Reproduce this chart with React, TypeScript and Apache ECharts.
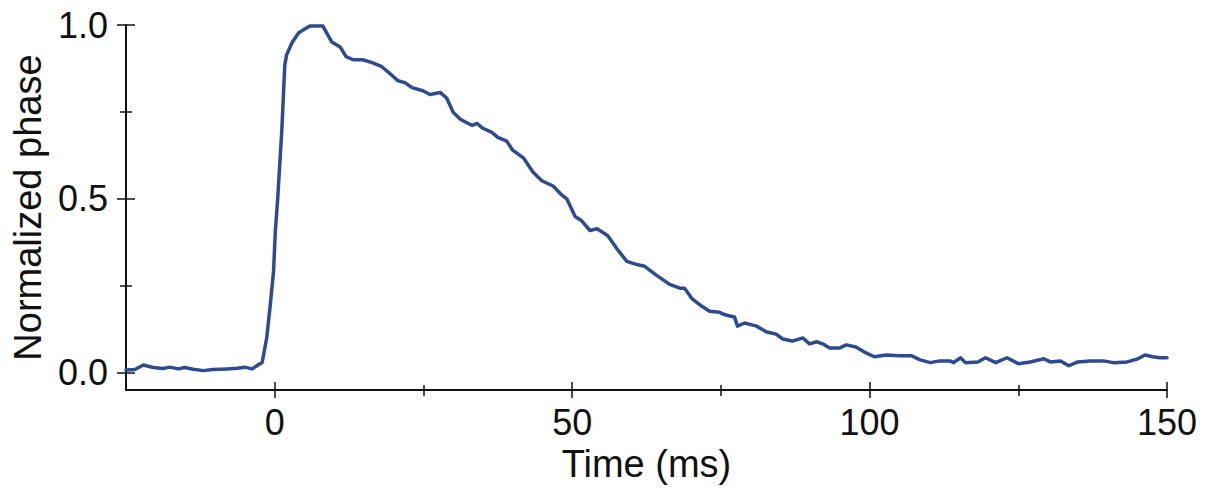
import React, { useEffect, useRef } from "react";
import * as echarts from "echarts";

const times: number[] = [
  -25, -23.5, -22.1, -20.4, -18.8, -17.6, -16.2, -15.1, -13.7, -12, -10.4, -8, -6.3, -5, -3.8, -2.1,
  -1.35, -0.8, -0.2, 0.1, 0.5, 1.2, 1.7, 2, 2.9, 4, 4.8, 5.9, 8.1, 9.6, 11, 12, 13.2, 14.8, 16.5,
  18, 19.4, 20.7, 21.9, 23.1, 24.9, 26.1, 27.8, 28.9, 30, 31.2, 33.2, 34, 35, 36.5, 37.5, 39, 40,
  41.8, 43.4, 44.9, 46.8, 48.2, 49.1, 50.5, 51.6, 53, 54.2, 56, 57.5, 59.2, 60.9, 62.2, 64.2, 66.4,
  68.1, 68.9, 70.1, 71.8, 73.1, 74.8, 75.3, 76.5, 77.3, 77.8, 79, 81, 82.7, 84.3, 85.4, 87, 88.8,
  89.9, 91.1, 92.1, 93.3, 94.9, 96.1, 97.7, 99.4, 100.8, 102.8, 105, 107, 108.5, 110.2, 111.8,
  113.5, 114.1, 115.3, 116.1, 118.2, 119.5, 121.2, 123.1, 125, 127, 129.3, 130.4, 132.1, 133.5,
  135, 137.1, 139.3, 141, 143.3, 145.1, 146.3, 147.6, 148.8, 150,
];

const phase: number[] = [
  0.008, 0.009, 0.022, 0.015, 0.012, 0.016, 0.011, 0.015, 0.01, 0.006, 0.009, 0.011, 0.013, 0.016,
  0.011, 0.03, 0.1, 0.186, 0.29, 0.406, 0.5, 0.7, 0.886, 0.914, 0.949, 0.977, 0.986, 0.997, 0.997,
  0.951, 0.937, 0.909, 0.9, 0.9, 0.891, 0.88, 0.86, 0.84, 0.834, 0.82, 0.811, 0.8, 0.806, 0.79,
  0.749, 0.729, 0.711, 0.717, 0.703, 0.691, 0.677, 0.666, 0.64, 0.618, 0.577, 0.552, 0.537, 0.512,
  0.5, 0.449, 0.437, 0.409, 0.414, 0.394, 0.357, 0.32, 0.311, 0.306, 0.28, 0.254, 0.243, 0.243,
  0.214, 0.191, 0.177, 0.174, 0.169, 0.163, 0.16, 0.134, 0.143, 0.134, 0.117, 0.111, 0.097, 0.091,
  0.1, 0.083, 0.089, 0.083, 0.071, 0.071, 0.08, 0.074, 0.057, 0.046, 0.051, 0.049, 0.049, 0.037,
  0.029, 0.034, 0.034, 0.029, 0.043, 0.029, 0.031, 0.043, 0.029, 0.043, 0.026, 0.031, 0.04, 0.031,
  0.034, 0.02, 0.031, 0.034, 0.034, 0.029, 0.031, 0.04, 0.051, 0.046, 0.043, 0.043,
];

const xMajorTicks: number[] = [0, 50, 100, 150];
const xMinorTicks: number[] = [25, 75, 125];
const yMajorTicks: number[] = [0, 0.5, 1.0];
const yMinorTicks: number[] = [0.25, 0.75];

const FONT = '"Liberation Sans", Arial, Helvetica, sans-serif';
const INK = "#111111";
const LINE_COLOR = "#2D4B8E";

export default function App() {
  const ref = useRef<HTMLDivElement>(null);

  useEffect(() => {
    if (!ref.current) return;
    const chart = echarts.init(ref.current, undefined, { renderer: "svg" });

    const xBase = {
      type: "value" as const,
      min: -25,
      max: 150,
      position: "bottom" as const,
      splitLine: { show: false },
    };
    const yBase = {
      type: "value" as const,
      min: -0.05,
      max: 1.0,
      position: "left" as const,
      splitLine: { show: false },
    };

    const tickAxisX = (values: number[], inside: boolean, length: number) => ({
      ...xBase,
      axisLine: { show: false, onZero: false },
      axisLabel: { show: false },
      axisTick: {
        show: true,
        inside,
        length,
        customValues: values,
        lineStyle: { color: INK, width: 1.5 },
      },
    });
    const tickAxisY = (values: number[], inside: boolean, length: number) => ({
      ...yBase,
      axisLine: { show: false, onZero: false },
      axisLabel: { show: false },
      axisTick: {
        show: true,
        inside,
        length,
        customValues: values,
        lineStyle: { color: INK, width: 1.5 },
      },
    });

    chart.setOption({
      animation: false,
      backgroundColor: "#ffffff",
      grid: { left: 126, right: 45, top: 25, bottom: 96 },
      xAxis: [
        {
          ...xBase,
          name: "Time (ms)",
          nameLocation: "middle",
          nameGap: 51,
          nameTextStyle: { fontFamily: FONT, fontSize: 38, color: INK },
          axisLine: { show: true, onZero: false, lineStyle: { color: INK, width: 2 } },
          axisTick: {
            show: true,
            inside: false,
            length: 8,
            customValues: xMajorTicks,
            lineStyle: { color: INK, width: 1.5 },
          },
          axisLabel: {
            show: true,
            customValues: xMajorTicks,
            margin: 14,
            fontFamily: FONT,
            fontSize: 36,
            color: INK,
          },
        },
        tickAxisX(xMajorTicks, true, 8),
        tickAxisX(xMinorTicks, false, 6),
        tickAxisX(xMinorTicks, true, 5),
      ],
      yAxis: [
        {
          ...yBase,
          name: "Normalized phase",
          nameLocation: "middle",
          nameGap: 76,
          nameTextStyle: { fontFamily: FONT, fontSize: 38, color: INK },
          axisLine: { show: true, onZero: false, lineStyle: { color: INK, width: 2 } },
          axisTick: {
            show: true,
            inside: false,
            length: 9,
            customValues: yMajorTicks,
            lineStyle: { color: INK, width: 1.5 },
          },
          axisLabel: {
            show: true,
            customValues: yMajorTicks,
            margin: 18,
            fontFamily: FONT,
            fontSize: 36,
            color: INK,
            formatter: (v: number) => v.toFixed(1),
          },
        },
        tickAxisY(yMajorTicks, true, 9),
        tickAxisY(yMinorTicks, false, 6),
        tickAxisY(yMinorTicks, true, 6),
      ],
      series: [
        {
          type: "line",
          xAxisIndex: 0,
          yAxisIndex: 0,
          data: times.map((t, i) => [t, phase[i]]),
          showSymbol: false,
          symbol: "none",
          smooth: false,
          lineStyle: { color: LINE_COLOR, width: 3.5, join: "round", cap: "round" },
          clip: false,
        },
      ],
    });

    return () => {
      chart.dispose();
    };
  }, []);

  return (
    <div
      ref={ref}
      style={{ position: "absolute", left: 0, top: 0, width: 1212, height: 488, background: "#fff" }}
    />
  );
}
